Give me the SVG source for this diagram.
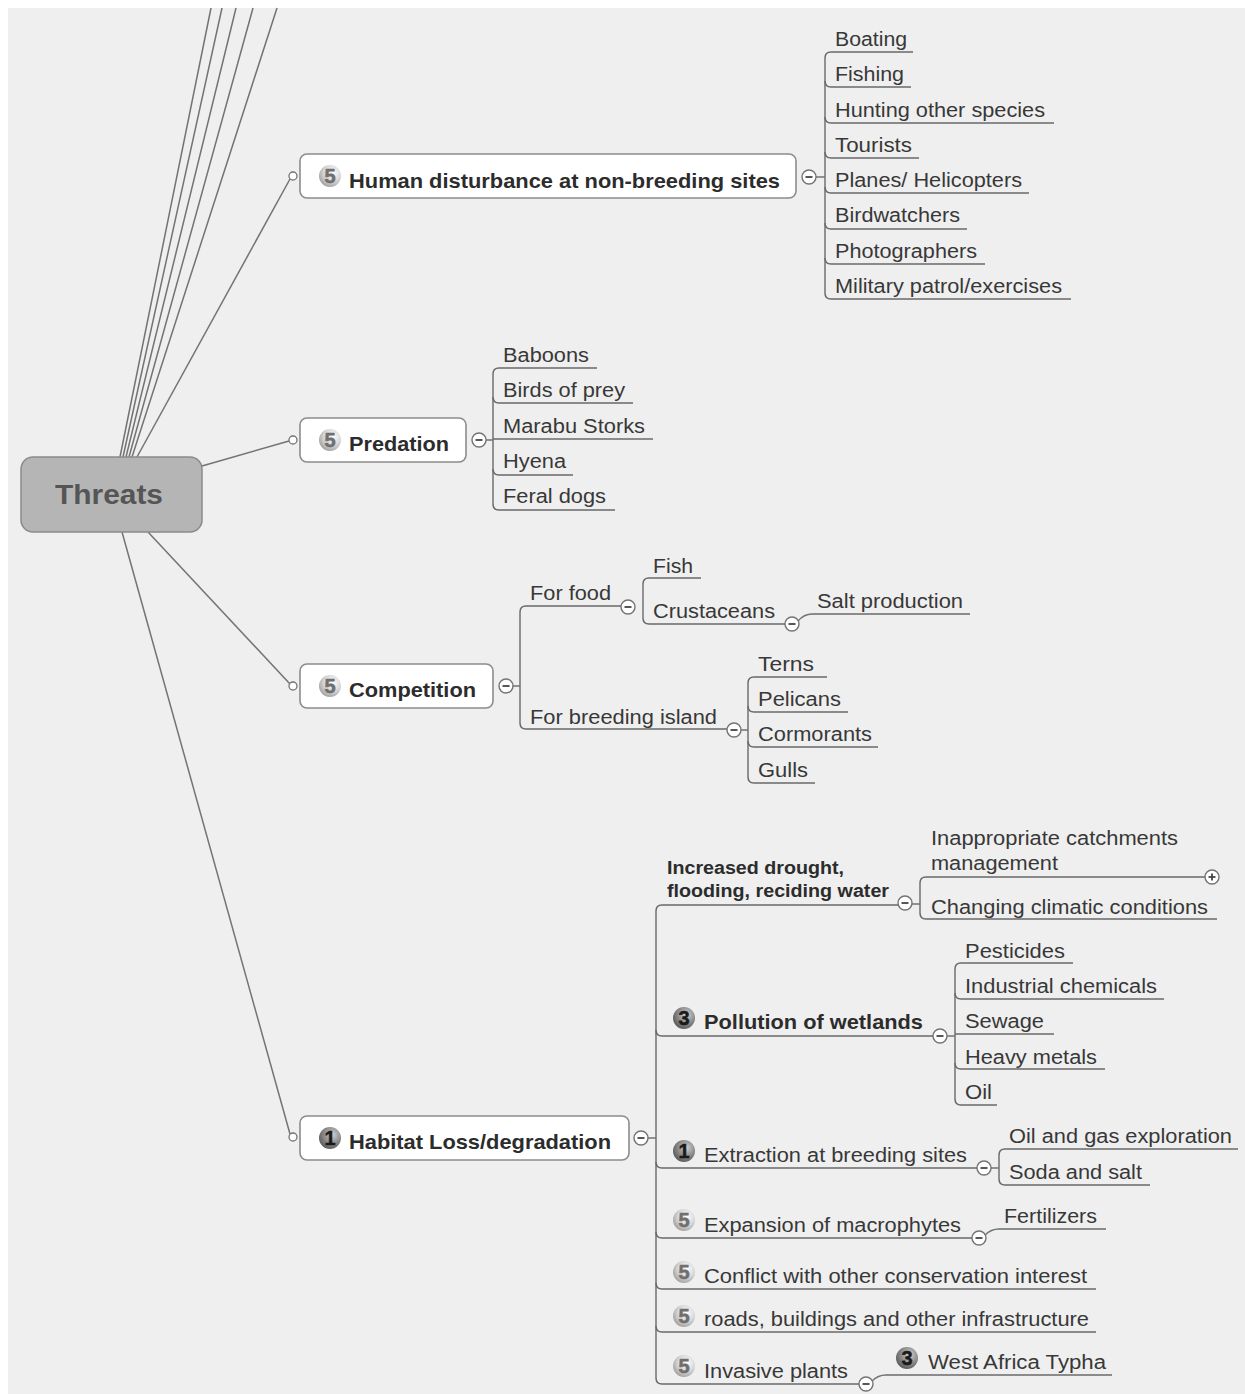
<svg xmlns="http://www.w3.org/2000/svg" width="1245" height="1394" viewBox="0 0 1245 1394">
<defs>
<style>
.bg{fill:#efefef}
.ln{fill:none;stroke:#737373;stroke-width:1.5}
.ul{fill:none;stroke:#6a6a6a;stroke-width:1.5}
.box{fill:#ffffff;stroke:#8c8c8c;stroke-width:1.6}
.t{font-family:"Liberation Sans",Arial,sans-serif;font-size:20px;fill:#383838}
.tb{font-family:"Liberation Sans",Arial,sans-serif;font-size:21px;font-weight:bold;fill:#2c2c2c}
.ts{font-family:"Liberation Sans",Arial,sans-serif;font-size:18px;font-weight:bold;fill:#2c2c2c}
.dig{font-family:"Liberation Sans",Arial,sans-serif;font-size:20px;font-weight:bold;text-anchor:middle}
.d5{fill:#6f6f6f;stroke:#6f6f6f;stroke-width:0.6}
.d1{fill:#1a1a1a;stroke:#1a1a1a;stroke-width:0.5}
.hole{fill:#ffffff;stroke:#737373;stroke-width:1.3}
.col{fill:#ffffff;stroke:#737373;stroke-width:1.4}
.mk{stroke:#444;stroke-width:1.8}
</style>
<radialGradient id="gl" cx="0.62" cy="0.35" r="0.72">
<stop offset="0" stop-color="#ffffff"/>
<stop offset="0.55" stop-color="#d6d6d6"/>
<stop offset="1" stop-color="#9c9c9c"/>
</radialGradient>
<radialGradient id="gd" cx="0.62" cy="0.35" r="0.72">
<stop offset="0" stop-color="#d0d0d0"/>
<stop offset="0.55" stop-color="#8a8a8a"/>
<stop offset="1" stop-color="#555555"/>
</radialGradient>
<g id="minus"><circle class="col" cx="0" cy="0" r="7"/><line class="mk" x1="-3.5" y1="0" x2="3.5" y2="0"/></g>
<g id="plus"><circle class="col" cx="0" cy="0" r="7"/><line class="mk" x1="-3.5" y1="0" x2="3.5" y2="0"/><line class="mk" x1="0" y1="-3.5" x2="0" y2="3.5"/></g>
<circle id="b5" cx="0" cy="0" r="11" fill="url(#gl)"/>
<circle id="b1" cx="0" cy="0" r="11" fill="url(#gd)"/>
</defs>
<rect x="0" y="0" width="1245" height="1394" fill="#ffffff"/>
<rect class="bg" x="8" y="8" width="1237" height="1386"/>

<g id="connectors">
<path class="ln" d="M120,457 L211,8 M123,457 L222,8 M126,457 L236,8 M129,457 L253,8 M132,457 L277,8"/>
<path class="ln" d="M137,457 L290,179"/>
<path class="ln" d="M202,466 L289,441"/>
<path class="ln" d="M148,532 L290,684"/>
<path class="ln" d="M122,532 L290,1134"/>
<circle class="hole" cx="293" cy="176" r="4"/>
<circle class="hole" cx="293" cy="440" r="4"/>
<circle class="hole" cx="293" cy="686" r="4"/>
<circle class="hole" cx="293" cy="1137" r="4"/>
<path class="ln" d="M816,177 H825 M825,58 V293"/>
<path class="ln" d="M486,440 H493 M493,374 V504"/>
<path class="ln" d="M513,686 H520 M520,612 V723"/>
<path class="ln" d="M643,584 V618"/>
<path class="ln" d="M798,621 Q804,614 812,614"/>
<path class="ln" d="M741,730 H748 M748,683 V777"/>
<path class="ln" d="M648,1138 H656 M656,911 V1378"/>
<path class="ln" d="M912,904 H920 M920,883 V913"/>
<path class="ln" d="M947,1036 H955 M955,969 V1099"/>
<path class="ln" d="M991,1168 H999 M999,1155 V1179"/>
<path class="ln" d="M985,1235 Q991,1229 999,1229"/>
<path class="ln" d="M872,1381 Q878,1375 886,1375"/>
<use href="#minus" x="809" y="177"/>
<use href="#minus" x="479" y="440"/>
<use href="#minus" x="506" y="686"/>
<use href="#minus" x="628" y="607"/>
<use href="#minus" x="792" y="624"/>
<use href="#minus" x="734" y="730"/>
<use href="#minus" x="641" y="1138"/>
<use href="#minus" x="905" y="903"/>
<use href="#plus" x="1212" y="877"/>
<use href="#minus" x="940" y="1036"/>
<use href="#minus" x="984" y="1168"/>
<use href="#minus" x="979" y="1238"/>
<use href="#minus" x="866" y="1384"/>
</g>

<g id="threats">
<rect x="21" y="457" width="181" height="75" rx="12" fill="#b5b5b5" stroke="#8a8a8a" stroke-width="1.5"/>
<text x="55" y="504" font-family="Liberation Sans, Arial, sans-serif" font-size="28" font-weight="bold" fill="#555555" textLength="108" lengthAdjust="spacingAndGlyphs">Threats</text>
</g>

<g id="human">
<rect class="box" x="300" y="154" width="496" height="44" rx="7"/>
<use href="#b5" x="330" y="176"/><text class="dig d5" x="330" y="183">5</text>
<text class="tb" x="349" y="188" textLength="431" lengthAdjust="spacingAndGlyphs">Human disturbance at non-breeding sites</text>
</g>
<g id="human-children">
<g id="boating"><path class="ul" d="M825,58 Q825,52 831,52 H913"/><text class="t" x="835" y="46" textLength="72" lengthAdjust="spacingAndGlyphs">Boating</text></g>
<g id="fishing"><path class="ul" d="M825,81 Q825,87 831,87 H911"/><text class="t" x="835" y="81" textLength="69" lengthAdjust="spacingAndGlyphs">Fishing</text></g>
<g id="hunting"><path class="ul" d="M825,117 Q825,123 831,123 H1054"/><text class="t" x="835" y="117" textLength="210" lengthAdjust="spacingAndGlyphs">Hunting other species</text></g>
<g id="tourists"><path class="ul" d="M825,152 Q825,158 831,158 H919"/><text class="t" x="835" y="152" textLength="77" lengthAdjust="spacingAndGlyphs">Tourists</text></g>
<g id="planes"><path class="ul" d="M825,187 Q825,193 831,193 H1029"/><text class="t" x="835" y="187" textLength="187" lengthAdjust="spacingAndGlyphs">Planes/ Helicopters</text></g>
<g id="birdwatchers"><path class="ul" d="M825,223 Q825,229 831,229 H967"/><text class="t" x="835" y="222" textLength="125" lengthAdjust="spacingAndGlyphs">Birdwatchers</text></g>
<g id="photographers"><path class="ul" d="M825,258 Q825,264 831,264 H985"/><text class="t" x="835" y="258" textLength="142" lengthAdjust="spacingAndGlyphs">Photographers</text></g>
<g id="military"><path class="ul" d="M825,293 Q825,299 831,299 H1071"/><text class="t" x="835" y="293" textLength="227" lengthAdjust="spacingAndGlyphs">Military patrol/exercises</text></g>
</g>

<g id="predation">
<rect class="box" x="300" y="418" width="166" height="44" rx="7"/>
<use href="#b5" x="330" y="440"/><text class="dig d5" x="330" y="447">5</text>
<text class="tb" x="349" y="451" textLength="100" lengthAdjust="spacingAndGlyphs">Predation</text>
</g>
<g id="predation-children">
<g id="baboons"><path class="ul" d="M493,374 Q493,368 499,368 H597"/><text class="t" x="503" y="362" textLength="86" lengthAdjust="spacingAndGlyphs">Baboons</text></g>
<g id="birds-of-prey"><path class="ul" d="M493,397 Q493,403 499,403 H633"/><text class="t" x="503" y="397" textLength="122" lengthAdjust="spacingAndGlyphs">Birds of prey</text></g>
<g id="marabu"><path class="ul" d="M493,439 H653"/><text class="t" x="503" y="433" textLength="142" lengthAdjust="spacingAndGlyphs">Marabu Storks</text></g>
<g id="hyena"><path class="ul" d="M493,469 Q493,475 499,475 H573"/><text class="t" x="503" y="468" textLength="63" lengthAdjust="spacingAndGlyphs">Hyena</text></g>
<g id="feral-dogs"><path class="ul" d="M493,504 Q493,510 499,510 H615"/><text class="t" x="503" y="503" textLength="103" lengthAdjust="spacingAndGlyphs">Feral dogs</text></g>
</g>

<g id="competition">
<rect class="box" x="300" y="664" width="193" height="44" rx="7"/>
<use href="#b5" x="330" y="686"/><text class="dig d5" x="330" y="693">5</text>
<text class="tb" x="349" y="697" textLength="127" lengthAdjust="spacingAndGlyphs">Competition</text>
</g>
<g id="competition-children">
<g id="for-food"><path class="ul" d="M520,612 Q520,606 526,606 H621"/><text class="t" x="530" y="600" textLength="81" lengthAdjust="spacingAndGlyphs">For food</text></g>
<g id="fish"><path class="ul" d="M643,584 Q643,578 649,578 H701"/><text class="t" x="653" y="573" textLength="40" lengthAdjust="spacingAndGlyphs">Fish</text></g>
<g id="crustaceans"><path class="ul" d="M643,618 Q643,624 649,624 H785"/><text class="t" x="653" y="618" textLength="122" lengthAdjust="spacingAndGlyphs">Crustaceans</text></g>
<g id="salt-production"><path class="ul" d="M812,614 H970"/><text class="t" x="817" y="608" textLength="146" lengthAdjust="spacingAndGlyphs">Salt production</text></g>
<g id="for-breeding"><path class="ul" d="M520,723 Q520,729 526,729 H727"/><text class="t" x="530" y="724" textLength="187" lengthAdjust="spacingAndGlyphs">For breeding island</text></g>
<g id="terns"><path class="ul" d="M748,683 Q748,677 754,677 H827"/><text class="t" x="758" y="671" textLength="56" lengthAdjust="spacingAndGlyphs">Terns</text></g>
<g id="pelicans"><path class="ul" d="M748,706 Q748,712 754,712 H848"/><text class="t" x="758" y="706" textLength="83" lengthAdjust="spacingAndGlyphs">Pelicans</text></g>
<g id="cormorants"><path class="ul" d="M748,741 Q748,747 754,747 H878"/><text class="t" x="758" y="741" textLength="114" lengthAdjust="spacingAndGlyphs">Cormorants</text></g>
<g id="gulls"><path class="ul" d="M748,777 Q748,783 754,783 H815"/><text class="t" x="758" y="777" textLength="50" lengthAdjust="spacingAndGlyphs">Gulls</text></g>
</g>

<g id="habitat">
<rect class="box" x="300" y="1116" width="329" height="44" rx="7"/>
<use href="#b1" x="330" y="1138"/><text class="dig d1" x="330" y="1145">1</text>
<text class="tb" x="349" y="1149" textLength="262" lengthAdjust="spacingAndGlyphs">Habitat Loss/degradation</text>
</g>
<g id="habitat-children">
<g id="drought"><path class="ul" d="M656,911 Q656,905 662,905 H898"/>
<text class="ts" x="667" y="874" textLength="177" lengthAdjust="spacingAndGlyphs">Increased drought,</text>
<text class="ts" x="667" y="897" textLength="222" lengthAdjust="spacingAndGlyphs">flooding, reciding water</text></g>
<g id="catchments"><path class="ul" d="M920,883 Q920,877 926,877 H1205"/>
<text class="t" x="931" y="845" textLength="247" lengthAdjust="spacingAndGlyphs">Inappropriate catchments</text>
<text class="t" x="931" y="870" textLength="127" lengthAdjust="spacingAndGlyphs">management</text></g>
<g id="climatic"><path class="ul" d="M920,913 Q920,919 926,919 H1217"/><text class="t" x="931" y="914" textLength="277" lengthAdjust="spacingAndGlyphs">Changing climatic conditions</text></g>

<g id="pollution"><path class="ul" d="M656,1030 Q656,1036 662,1036 H933"/>
<use href="#b1" x="684" y="1018"/><text class="dig d1" x="684" y="1025">3</text>
<text class="tb" x="704" y="1029" textLength="219" lengthAdjust="spacingAndGlyphs">Pollution of wetlands</text></g>
<g id="pesticides"><path class="ul" d="M955,969 Q955,963 961,963 H1073"/><text class="t" x="965" y="958" textLength="100" lengthAdjust="spacingAndGlyphs">Pesticides</text></g>
<g id="industrial"><path class="ul" d="M955,993 Q955,999 961,999 H1164"/><text class="t" x="965" y="993" textLength="192" lengthAdjust="spacingAndGlyphs">Industrial chemicals</text></g>
<g id="sewage"><path class="ul" d="M955,1034 H1054"/><text class="t" x="965" y="1028" textLength="79" lengthAdjust="spacingAndGlyphs">Sewage</text></g>
<g id="heavy-metals"><path class="ul" d="M955,1063 Q955,1069 961,1069 H1105"/><text class="t" x="965" y="1064" textLength="132" lengthAdjust="spacingAndGlyphs">Heavy metals</text></g>
<g id="oil"><path class="ul" d="M955,1099 Q955,1105 961,1105 H997"/><text class="t" x="965" y="1099" textLength="27" lengthAdjust="spacingAndGlyphs">Oil</text></g>

<g id="extraction"><path class="ul" d="M656,1162 Q656,1168 662,1168 H977"/>
<use href="#b1" x="684" y="1151"/><text class="dig d1" x="684" y="1158">1</text>
<text class="t" x="704" y="1162" textLength="263" lengthAdjust="spacingAndGlyphs">Extraction at breeding sites</text></g>
<g id="oil-gas"><path class="ul" d="M999,1155 Q999,1149 1005,1149 H1238"/><text class="t" x="1009" y="1143" textLength="223" lengthAdjust="spacingAndGlyphs">Oil and gas exploration</text></g>
<g id="soda"><path class="ul" d="M999,1179 Q999,1185 1005,1185 H1150"/><text class="t" x="1009" y="1179" textLength="133" lengthAdjust="spacingAndGlyphs">Soda and salt</text></g>

<g id="expansion"><path class="ul" d="M656,1232 Q656,1238 662,1238 H972"/>
<use href="#b5" x="684" y="1220"/><text class="dig d5" x="684" y="1227">5</text>
<text class="t" x="704" y="1232" textLength="257" lengthAdjust="spacingAndGlyphs">Expansion of macrophytes</text></g>
<g id="fertilizers"><path class="ul" d="M999,1229 H1106"/><text class="t" x="1004" y="1223" textLength="93" lengthAdjust="spacingAndGlyphs">Fertilizers</text></g>

<g id="conflict"><path class="ul" d="M656,1283 Q656,1289 662,1289 H1096"/>
<use href="#b5" x="684" y="1272"/><text class="dig d5" x="684" y="1279">5</text>
<text class="t" x="704" y="1283" textLength="383" lengthAdjust="spacingAndGlyphs">Conflict with other conservation interest</text></g>

<g id="roads"><path class="ul" d="M656,1326 Q656,1332 662,1332 H1096"/>
<use href="#b5" x="684" y="1316"/><text class="dig d5" x="684" y="1323">5</text>
<text class="t" x="704" y="1326" textLength="385" lengthAdjust="spacingAndGlyphs">roads, buildings and other infrastructure</text></g>

<g id="invasive"><path class="ul" d="M656,1378 Q656,1384 662,1384 H859"/>
<use href="#b5" x="684" y="1366"/><text class="dig d5" x="684" y="1373">5</text>
<text class="t" x="704" y="1378" textLength="144" lengthAdjust="spacingAndGlyphs">Invasive plants</text></g>
<g id="typha"><path class="ul" d="M886,1375 H1112"/>
<use href="#b1" x="907" y="1358"/><text class="dig d1" x="907" y="1365">3</text>
<text class="t" x="928" y="1369" textLength="178" lengthAdjust="spacingAndGlyphs">West Africa Typha</text></g>
</g>
</svg>
